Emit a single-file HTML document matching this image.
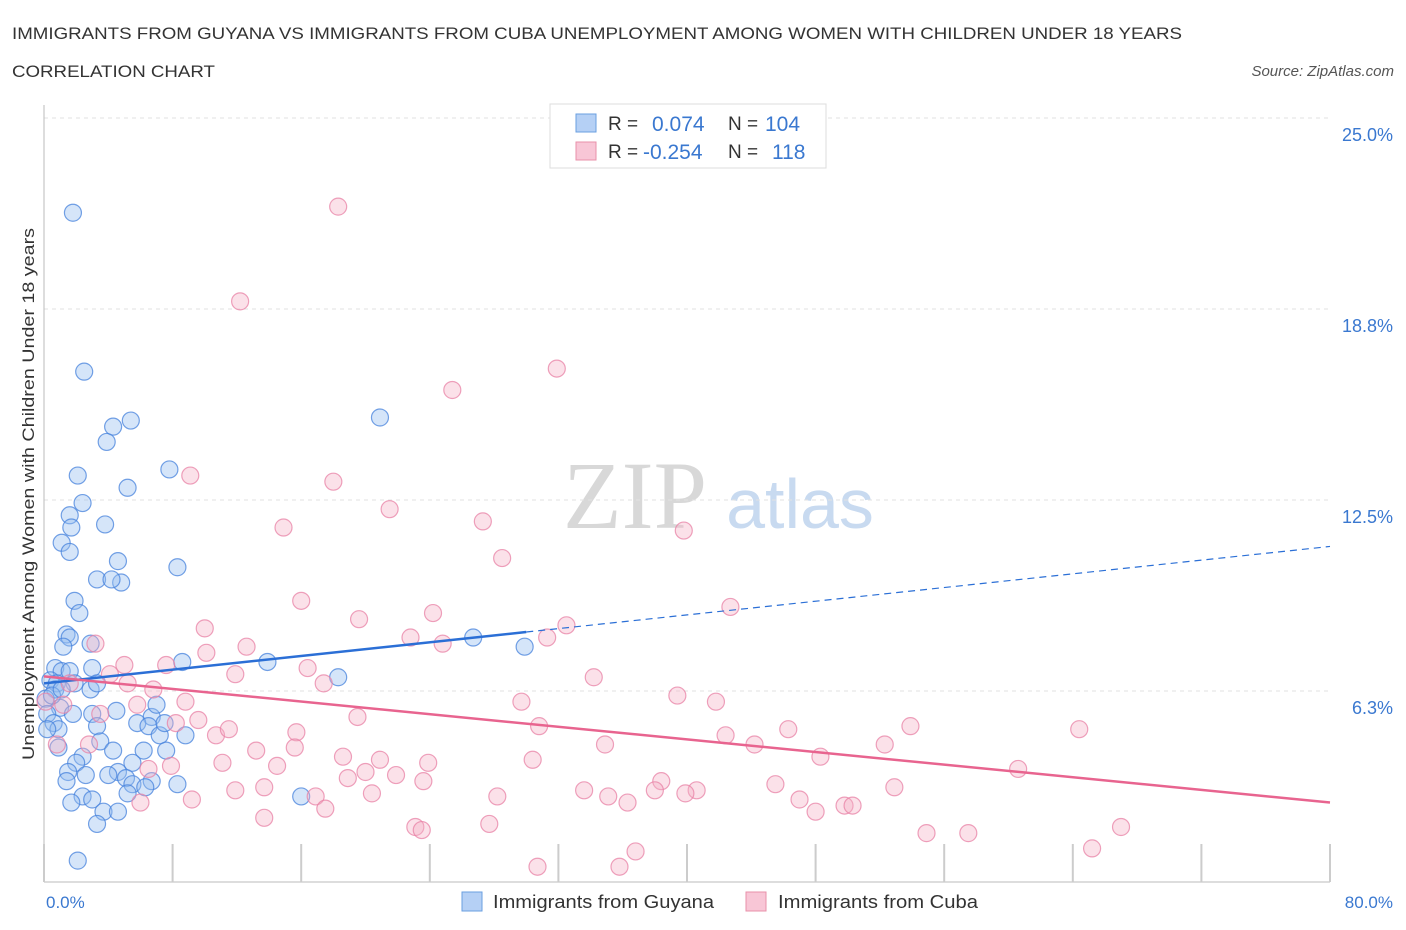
<!DOCTYPE html>
<html><head><meta charset="utf-8"><style>
body{margin:0;background:#fff;font-family:"Liberation Sans",sans-serif;}
svg{display:block}
</style></head><body>
<svg width="1406" height="930" id="c">
<text x="12" y="39" font-size="17" fill="#333" textLength="1170" lengthAdjust="spacingAndGlyphs">IMMIGRANTS FROM GUYANA VS IMMIGRANTS FROM CUBA UNEMPLOYMENT AMONG WOMEN WITH CHILDREN UNDER 18 YEARS</text>
<text x="12" y="77" font-size="17" fill="#333" textLength="203" lengthAdjust="spacingAndGlyphs">CORRELATION CHART</text>
<text x="1394" y="76" font-size="15" fill="#555" font-style="italic" text-anchor="end">Source: ZipAtlas.com</text>
<text x="635" y="528" font-size="96" fill="#d8d8d8" font-family="Liberation Serif,serif" text-anchor="middle">ZIP</text>
<text x="800" y="528" font-size="70" fill="#c8daf0" text-anchor="middle">atlas</text>
<text transform="translate(34,494) rotate(-90)" font-size="17" fill="#333" text-anchor="middle" textLength="532" lengthAdjust="spacingAndGlyphs">Unemployment Among Women with Children Under 18 years</text>
<g id="grid"></g><g id="marks"></g>
<text x="46" y="908" font-size="17" fill="#3a78d0">0.0%</text>
<text x="1393" y="908" font-size="17" fill="#3a78d0" text-anchor="end">80.0%</text>
<g>
<rect x="550" y="104" width="276" height="64" fill="#fff" stroke="#ddd"/>
<rect x="576" y="114" width="20" height="18" fill="#b5d0f5" stroke="#6a9fe0"/>
<rect x="576" y="142" width="20" height="18" fill="#f8c6d6" stroke="#e890aa"/>
<text x="608" y="130" font-size="19" fill="#333">R =</text><text x="652" y="131" font-size="21" fill="#3a78d0">0.074</text>
<text x="728" y="130" font-size="19" fill="#333">N =</text><text x="765" y="131" font-size="21" fill="#3a78d0">104</text>
<text x="608" y="158" font-size="19" fill="#333">R =</text><text x="643" y="159" font-size="21" fill="#3a78d0">-0.254</text>
<text x="728" y="158" font-size="19" fill="#333">N =</text><text x="772" y="159" font-size="21" fill="#3a78d0">118</text>
</g>
<g>
<rect x="462" y="892" width="20" height="19" fill="#b5d0f5" stroke="#6a9fe0"/>
<text x="493" y="908" font-size="18" fill="#333" textLength="221" lengthAdjust="spacingAndGlyphs">Immigrants from Guyana</text>
<rect x="746" y="892" width="20" height="19" fill="#f8c6d6" stroke="#e890aa"/>
<text x="778" y="908" font-size="18" fill="#333" textLength="200" lengthAdjust="spacingAndGlyphs">Immigrants from Cuba</text>
</g>
</svg>
<script>
const yTicks=[6.25,12.5,18.75,25];
const yTickLabels=["6.3%","12.5%","18.8%","25.0%"];
const xTicks=[0,8,16,24,32,40,48,56,64,72,80];
const guyanaX=[1.8,2.5,5.4,4.3,3.9,20.9,7.8,2.1,5.2,2.4,1.6,1.7,3.8,1.1,1.6,4.6,8.3,3.3,4.8,4.2,1.9,2.2,1.4,1.6,2.9,1.2,26.7,29.9,8.6,13.9,3.0,0.7,1.1,1.6,0.4,0.8,1.9,2.9,3.3,18.3,0.7,0.1,1.0,1.8,4.5,0.2,6.7,0.6,3.0,5.8,3.3,6.5,0.9,0.2,3.5,7.2,8.8,0.9,4.3,6.2,7.6,2.4,2.0,5.5,4.6,1.5,2.6,4.0,5.1,1.4,6.7,8.3,5.5,6.3,5.2,2.4,1.7,3.0,3.7,4.6,3.3,16.0,2.1,7.0,7.5,0.5,1.1];
const guyanaY=[21.9,16.7,15.1,14.9,14.4,15.2,13.5,13.3,12.9,12.4,12.0,11.6,11.7,11.1,10.8,10.5,10.3,9.9,9.8,9.9,9.2,8.8,8.1,8.0,7.8,7.7,8.0,7.7,7.2,7.2,7.0,7.0,6.9,6.9,6.6,6.5,6.5,6.3,6.5,6.7,6.3,6.0,5.7,5.5,5.6,5.5,5.4,5.2,5.5,5.2,5.1,5.1,5.0,5.0,4.6,4.8,4.8,4.4,4.3,4.3,4.3,4.1,3.9,3.9,3.6,3.6,3.5,3.5,3.4,3.3,3.3,3.2,3.2,3.1,2.9,2.8,2.6,2.7,2.3,2.3,1.9,2.8,0.7,5.8,5.2,6.1,6.3];
const cubaX=[18.3,12.2,31.9,25.4,18.0,21.5,27.3,14.9,39.8,28.5,9.1,16.0,24.2,42.7,19.6,32.5,10.0,22.8,31.3,24.8,3.2,12.6,10.1,5.0,16.4,7.6,4.1,11.9,17.4,34.2,5.2,6.8,1.6,39.4,29.7,8.8,41.8,0.1,1.2,5.8,3.5,19.5,8.2,9.6,53.9,64.4,30.8,46.3,15.7,10.7,11.5,42.4,34.9,44.2,52.3,0.8,2.8,15.6,13.2,18.6,20.9,30.4,48.3,6.5,7.9,11.1,14.5,23.9,20.0,18.9,21.9,23.6,38.4,45.5,52.9,60.6,33.6,40.6,35.1,13.7,11.9,20.4,16.9,38.0,28.2,39.9,36.3,47.0,49.8,50.3,17.5,13.7,23.1,23.5,27.7,48.0,54.9,57.5,67.0,65.2,36.8,35.8,30.7,9.2,6.0];
const cubaY=[22.1,19.0,16.8,16.1,13.1,12.2,11.8,11.6,11.5,10.6,13.3,9.2,8.8,9.0,8.6,8.4,8.3,8.0,8.0,7.8,7.8,7.7,7.5,7.1,7.0,7.1,6.8,6.8,6.5,6.7,6.5,6.3,6.5,6.1,5.9,5.9,5.9,5.9,5.8,5.8,5.5,5.4,5.2,5.3,5.1,5.0,5.1,5.0,4.9,4.8,5.0,4.8,4.5,4.5,4.5,4.5,4.5,4.4,4.3,4.1,4.0,4.0,4.1,3.7,3.8,3.9,3.8,3.9,3.6,3.4,3.5,3.3,3.3,3.2,3.1,3.7,3.0,3.0,2.8,3.1,3.0,2.9,2.8,3.0,2.8,2.9,2.6,2.7,2.5,2.5,2.4,2.1,1.8,1.7,1.9,2.3,1.6,1.6,1.8,1.1,1.0,0.5,0.5,2.7,2.6];
const guyanaTrend=[6.5,0.056];
const cubaTrend=[6.73,-0.0516];
const NS='http://www.w3.org/2000/svg';
const X0=44,X1=1330,Y0=882,Y1=118;
function sx(v){return X0+v/80*(X1-X0);}
function sy(v){return Y0-v/25*(Y0-Y1);}
function mk(t,a,p){const e=document.createElementNS(NS,t);for(const k in a)e.setAttribute(k,a[k]);p.appendChild(e);return e;}
const grid=document.getElementById('grid'),marks=document.getElementById('marks');
yTicks.forEach((t,i)=>{
 const l=mk('line',{x1:X0,x2:X1,y1:sy(t),y2:sy(t),stroke:'#e2e2e2','stroke-dasharray':'4,4'},grid);
 
 
 const tx=mk('text',{x:1393,y:sy(t)+23,'font-size':18,fill:'#3a78d0','text-anchor':'end'},grid);
 tx.textContent=yTickLabels[i];
 
 
});
const ax=mk('line',{x1:X0,x2:X1,y1:Y0,y2:Y0,stroke:'#bbb'},grid);


const ay=mk('line',{x1:X0,x2:X0,y1:105,y2:Y0,stroke:'#bbb'},grid);


xTicks.forEach(t=>{
 const l=mk('line',{x1:sx(t),x2:sx(t),y1:844,y2:Y0,stroke:'#ccc','stroke-width':2},grid);
 
 
});
function pts(xs,ys,fill,stroke,name){
 xs.forEach((x,i)=>{
  const c=mk('circle',{cx:sx(x),cy:sy(ys[i]),r:8.5,fill:fill,stroke:stroke,'stroke-width':1.2},marks);
  
  
 });
}
pts(guyanaX,guyanaY,'rgba(150,190,240,0.4)','rgba(70,130,220,0.75)','guyana-point');
pts(cubaX,cubaY,'rgba(245,175,198,0.38)','rgba(232,130,165,0.75)','cuba-point');
const f=(tr,x)=>tr[0]+tr[1]*x;
const b1=mk('line',{x1:sx(0),y1:sy(f(guyanaTrend,0)),x2:sx(30),y2:sy(f(guyanaTrend,30)),stroke:'#2b6fd6','stroke-width':2.5},marks);


const b2=mk('line',{x1:sx(30),y1:sy(f(guyanaTrend,30)),x2:sx(80),y2:sy(f(guyanaTrend,80)),stroke:'#2b6fd6','stroke-width':1.2,'stroke-dasharray':'7,5'},marks);


const p1=mk('line',{x1:sx(0),y1:sy(f(cubaTrend,0)),x2:sx(80),y2:sy(f(cubaTrend,80)),stroke:'#e8648f','stroke-width':2.5},marks);


</script>
</body></html>
